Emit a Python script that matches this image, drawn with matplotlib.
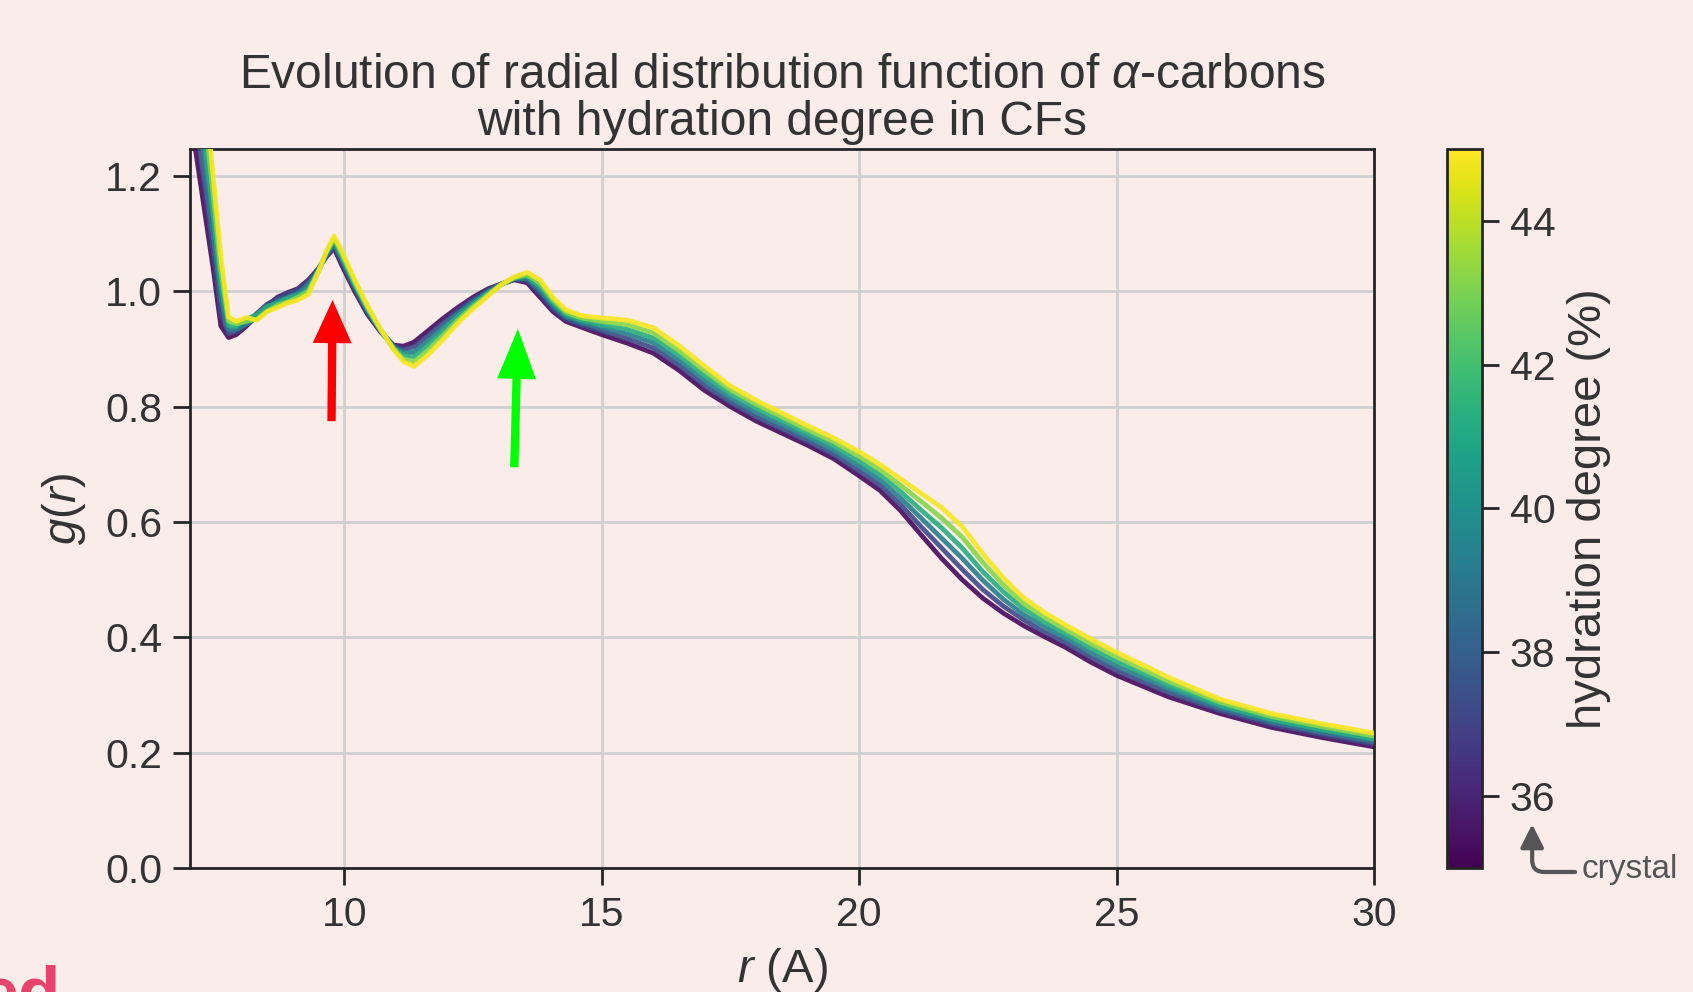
import matplotlib
matplotlib.use("Agg")
import matplotlib.pyplot as plt

# hydration degree (%) of each curve
hydration = [35.2, 37.2, 39.2, 41.2, 43.2, 44.9]

r = [7.0, 7.15, 7.3, 7.45, 7.6, 7.75, 7.9, 8.1, 8.3, 8.5, 8.7, 8.9, 9.1, 9.3, 9.5, 9.65,
     9.8, 9.95, 10.2, 10.45, 10.7, 10.95, 11.15, 11.35, 11.6, 11.9, 12.2, 12.5, 12.8, 13.05,
     13.3, 13.55, 13.8, 14.05, 14.3, 14.6, 15.0, 15.5, 16.0, 16.5, 17.0, 17.5, 18.0, 18.5,
     19.0, 19.5, 20.0, 20.4, 20.8, 21.2, 21.6, 22.0, 22.4, 22.8, 23.2, 23.6, 24.0, 24.5,
     25.0, 26.0, 27.0, 28.0, 29.0, 30.0]

g_352 = [1.31, 1.22, 1.13, 1.04, 0.94, 0.92, 0.925, 0.94, 0.958, 0.975, 0.99, 0.998, 1.005, 1.02, 1.04, 1.06,
         1.075, 1.045, 1.0, 0.96, 0.93, 0.907, 0.905, 0.912, 0.93, 0.952, 0.972, 0.99, 1.005, 1.013,
         1.02, 1.015, 0.99, 0.965, 0.948, 0.938, 0.925, 0.91, 0.893, 0.863, 0.828, 0.80, 0.775, 0.754,
         0.733, 0.710, 0.680, 0.655, 0.62, 0.578, 0.537, 0.50, 0.468, 0.442, 0.420, 0.401, 0.383, 0.357,
         0.334, 0.297, 0.268, 0.244, 0.226, 0.210]
g_372 = [1.368, 1.27, 1.172, 1.072, 0.964, 0.927, 0.93, 0.946, 0.962, 0.978, 0.988, 0.997, 1.003, 1.018, 1.04, 1.062,
         1.079, 1.05, 1.004, 0.963, 0.931, 0.906, 0.90, 0.904, 0.922, 0.945, 0.967, 0.986, 1.003, 1.013,
         1.021, 1.019, 0.996, 0.97, 0.952, 0.942, 0.931, 0.918, 0.902, 0.872, 0.836, 0.807, 0.782, 0.761,
         0.74, 0.717, 0.688, 0.664, 0.631, 0.592, 0.555, 0.518, 0.483, 0.454, 0.43, 0.409, 0.391, 0.365,
         0.342, 0.304, 0.273, 0.249, 0.231, 0.215]
g_392 = [1.426, 1.32, 1.214, 1.104, 0.988, 0.934, 0.934, 0.943, 0.955, 0.97, 0.983, 0.99, 0.997, 1.012, 1.038, 1.064,
         1.083, 1.055, 1.008, 0.966, 0.932, 0.904, 0.894, 0.895, 0.913, 0.937, 0.961, 0.982, 1.0, 1.013,
         1.022, 1.022, 1.002, 0.975, 0.956, 0.946, 0.937, 0.926, 0.911, 0.88, 0.845, 0.814, 0.789, 0.768,
         0.747, 0.724, 0.697, 0.673, 0.642, 0.607, 0.572, 0.537, 0.499, 0.466, 0.439, 0.418, 0.399, 0.373,
         0.35, 0.311, 0.278, 0.254, 0.236, 0.22]
g_412 = [1.484, 1.37, 1.256, 1.136, 1.012, 0.941, 0.939, 0.952, 0.96, 0.974, 0.98, 0.988, 0.993, 1.004, 1.037, 1.066,
         1.088, 1.06, 1.012, 0.969, 0.933, 0.903, 0.889, 0.887, 0.905, 0.93, 0.956, 0.978, 0.998, 1.012,
         1.023, 1.026, 1.008, 0.98, 0.96, 0.95, 0.942, 0.934, 0.919, 0.889, 0.853, 0.822, 0.797, 0.775,
         0.753, 0.732, 0.705, 0.682, 0.653, 0.621, 0.59, 0.555, 0.514, 0.479, 0.449, 0.426, 0.406, 0.381,
         0.358, 0.317, 0.283, 0.258, 0.24, 0.224]
g_432 = [1.542, 1.42, 1.298, 1.168, 1.036, 0.948, 0.944, 0.948, 0.952, 0.966, 0.976, 0.982, 0.99, 1.0, 1.036, 1.068,
         1.092, 1.065, 1.016, 0.972, 0.934, 0.901, 0.883, 0.878, 0.896, 0.922, 0.95, 0.974, 0.995, 1.012,
         1.024, 1.029, 1.014, 0.985, 0.964, 0.954, 0.948, 0.942, 0.928, 0.897, 0.862, 0.829, 0.804, 0.782,
         0.76, 0.739, 0.714, 0.691, 0.664, 0.636, 0.607, 0.574, 0.53, 0.491, 0.458, 0.435, 0.414, 0.389,
         0.366, 0.324, 0.288, 0.263, 0.245, 0.229]
g_449 = [1.60, 1.47, 1.34, 1.20, 1.06, 0.955, 0.948, 0.955, 0.95, 0.965, 0.972, 0.98, 0.985, 0.995, 1.035, 1.07,
         1.096, 1.07, 1.02, 0.975, 0.935, 0.90, 0.878, 0.87, 0.888, 0.915, 0.945, 0.97, 0.993, 1.012,
         1.025, 1.033, 1.02, 0.99, 0.968, 0.958, 0.954, 0.950, 0.937, 0.906, 0.870, 0.836, 0.811, 0.789,
         0.767, 0.746, 0.722, 0.700, 0.675, 0.650, 0.625, 0.592, 0.545, 0.503, 0.468, 0.443, 0.422, 0.397,
         0.374, 0.331, 0.293, 0.268, 0.250, 0.234]

curves = [g_352, g_372, g_392, g_412, g_432, g_449]

bg = '#f9ece9'
txt = '#333333'
plt.rcParams['font.family'] = ['Liberation Sans', 'DejaVu Sans']
plt.rcParams['mathtext.fontset'] = 'custom'
plt.rcParams['mathtext.rm'] = 'Liberation Sans'
plt.rcParams['mathtext.it'] = 'Liberation Sans:italic'
plt.rcParams['text.color'] = txt
plt.rcParams['axes.labelcolor'] = txt
plt.rcParams['xtick.color'] = '#262626'
plt.rcParams['ytick.color'] = '#262626'
plt.rcParams['xtick.labelcolor'] = txt
plt.rcParams['ytick.labelcolor'] = txt

fig = plt.figure(figsize=(16.93, 9.92), dpi=100, facecolor=bg)
ax = fig.add_axes([0.1122, 0.125, 0.6994, 0.7248], facecolor=bg)
cax = fig.add_axes([0.8547, 0.125, 0.0207, 0.7248])

cmap = plt.get_cmap('viridis')
norm = matplotlib.colors.Normalize(vmin=35, vmax=45)

for h, g in zip(hydration, curves):
    ax.plot(r, g, color=cmap(norm(h)), lw=3.4, alpha=0.9, zorder=3,
            solid_joinstyle='round')

ax.set_xlim(7, 30)
ax.set_ylim(0, 1.247)
ax.set_xticks([10, 15, 20, 25, 30])
ax.set_yticks([0.0, 0.2, 0.4, 0.6, 0.8, 1.0, 1.2])
ax.set_yticklabels(['0.0', '0.2', '0.4', '0.6', '0.8', '1.0', '1.2'])
ax.grid(color='#d0d0d0', lw=2, zorder=0)
ax.tick_params(labelsize=29.5, length=12, width=2, pad=8)
for s in ax.spines.values():
    s.set_linewidth(2)
    s.set_color('#262626')

ax.set_xlabel('$r$ (A)', fontsize=34, labelpad=9)
ax.set_ylabel('$g(r)$', fontsize=34, labelpad=12)
ax.set_title('Evolution of radial distribution function of $\\alpha$-carbons\n'
             'with hydration degree in CFs', fontsize=34.5, pad=10, linespacing=1.05)

# highlighted peaks
ax.annotate('', xy=(9.77, 0.985), xytext=(9.75, 0.775),
            arrowprops=dict(facecolor='#ff0000', edgecolor='none', width=6,
                            headwidth=28, headlength=31), zorder=5)
ax.annotate('', xy=(13.37, 0.935), xytext=(13.30, 0.695),
            arrowprops=dict(facecolor='#00ff00', edgecolor='none', width=6,
                            headwidth=28, headlength=36), zorder=5)

sm = matplotlib.cm.ScalarMappable(norm=norm, cmap=cmap)
cb = fig.colorbar(sm, cax=cax)
cb.set_ticks([36, 38, 40, 42, 44])
cb.ax.tick_params(labelsize=29.5, length=12, width=2, pad=8)
cb.outline.set_linewidth(2)
cb.outline.set_edgecolor('#262626')
cb.set_label('hydration degree (%)', fontsize=34, labelpad=8)

# crystal note under the colorbar
fig.text(0.934, 0.123, 'crystal', fontsize=24, color='#555555', va='center', ha='left')
fig.add_artist(matplotlib.patches.FancyArrowPatch(
    (0.932, 0.121), (0.905, 0.172), transform=fig.transFigure,
    connectionstyle='angle,angleA=0,angleB=90,rad=12',
    arrowstyle='-|>,head_length=14,head_width=7', color='#555555', lw=3,
    mutation_scale=1))

fig.text(-0.012, 0.028, 'ed', fontsize=50, weight='bold', color='#e8436c', va='top')

fig.savefig('out.png', dpi=100, facecolor=bg)
